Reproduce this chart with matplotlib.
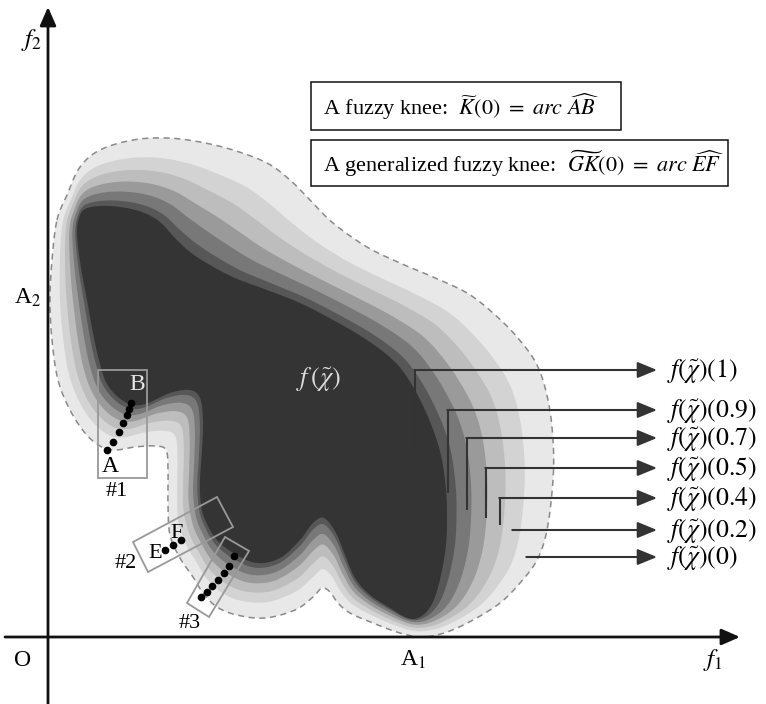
import numpy as np
import matplotlib
matplotlib.use("Agg")
import matplotlib.pyplot as plt
from matplotlib.patches import Polygon, Rectangle

plt.rcParams["font.family"] = ["Liberation Serif", "DejaVu Serif"]
plt.rcParams["mathtext.fontset"] = "stix"

# outer boundary (support, level 0) of the fuzzy front, in picture pixels
outer_x = [57, 67, 80, 100, 133, 167, 200, 233, 267, 290, 310, 333, 367, 400, 433,
           467, 493, 517, 537, 548, 553, 553, 547, 537, 520, 500, 473, 447, 423, 400,
           373, 350, 338, 330, 322, 313, 295, 265, 237, 217, 203, 193, 180, 170, 168,
           168, 166, 155, 135, 115, 100, 85, 70, 58, 52, 50, 52]
outer_y = [220, 195, 167, 150, 140, 138, 142, 150, 163, 180, 200, 223, 247, 263, 277,
           293, 313, 337, 365, 400, 440, 480, 530, 560, 583, 603, 620, 632, 637, 633,
           623, 613, 603, 592, 588, 597, 610, 618, 615, 607, 593, 577, 558, 535, 505,
           470, 450, 446, 447, 450, 446, 433, 410, 380, 340, 300, 260]
# core boundary (level 1), same number of points
core_x = [77, 79, 85, 100, 120, 142, 160, 175, 190, 210, 235, 267, 300, 333, 367,
          395, 412, 425, 435, 442, 446, 447, 446, 441, 435, 428, 420, 412, 403, 390,
          370, 355, 345, 336, 324, 313, 300, 280, 257, 235, 217, 206, 201, 200, 202,
          203, 200, 190, 170, 148, 133, 118, 106, 99, 93, 87, 81]
core_y = [235, 218, 209, 206, 207, 212, 222, 238, 252, 265, 278, 290, 303, 320, 340,
          362, 385, 410, 435, 460, 490, 515, 545, 575, 597, 610, 617, 619, 616, 608,
          595, 578, 555, 533, 518, 523, 540, 558, 563, 554, 540, 522, 505, 480, 450,
          420, 398, 390, 393, 403, 405, 397, 382, 360, 333, 300, 268]

levels = ["0", "0.2", "0.4", "0.5", "0.7", "0.9", "1"]
level_colors = ["#e8e8e8", "#d3d3d3", "#bdbdbd", "#9a9a9a", "#787878", "#575757", "#343434"]
level_frac = [0, 0.27, 0.45, 0.62, 0.77, 0.91, 1.0]

# leaders to the level labels
leader_levels = ["1", "0.9", "0.7", "0.5", "0.4", "0.2", "0"]
leader_y = [370, 410, 438, 468, 498, 530, 557]
leader_x = [415, 448, 467, 486, 500, 513, 527]
leader_drop = [445, 493, 510, 518, 525, None, None]

# knee points
dots1_x = [107, 113, 119, 123, 127, 129, 131]
dots1_y = [450, 442, 432, 423, 415, 409, 403]
dots2_x = [165, 173, 181]
dots2_y = [550, 545, 540]
dots3_x = [201, 207, 212, 218, 224, 229, 234]
dots3_y = [597, 592, 586, 580, 573, 566, 556]

box2_corners = [(133, 542), (217, 497), (233, 527), (148, 572)]
box3_corners = [(225, 537), (249, 551), (209, 617), (187, 603)]


def smooth_closed(pts, n=10):
    P = np.asarray(pts, float)
    N = len(P)
    t = np.linspace(0, 1, n, endpoint=False)[:, None]
    out = []
    for i in range(N):
        p0, p1, p2, p3 = P[i - 1], P[i], P[(i + 1) % N], P[(i + 2) % N]
        seg = 0.5 * (2 * p1 + (-p0 + p2) * t + (2 * p0 - 5 * p1 + 4 * p2 - p3) * t ** 2
                     + (-p0 + 3 * p1 - 3 * p2 + p3) * t ** 3)
        out.append(seg)
    return np.vstack(out)


fig = plt.figure(figsize=(7.66, 7.04), dpi=100)
ax = fig.add_axes([0, 0, 1, 1])
ax.set_xlim(0, 766)
ax.set_ylim(704, 0)
ax.axis("off")

outer = np.column_stack([outer_x, outer_y])
core = np.column_stack([core_x, core_y])

for frac, col in zip(level_frac, level_colors):
    poly = smooth_closed(outer + frac * (core - outer))
    ax.add_patch(Polygon(poly, closed=True, facecolor=col, edgecolor="none", zorder=2))

ax.add_patch(Polygon(smooth_closed(outer), closed=True, fill=False, edgecolor="#8a8a8a",
                     lw=1.1, ls=(0, (4, 3)), zorder=3))

# axes
ax.annotate("", xy=(48, 7), xytext=(48, 704),
            arrowprops=dict(arrowstyle="-|>,head_length=0.8,head_width=0.35",
                            mutation_scale=14, lw=2, color="#111", shrinkA=0, shrinkB=0))
ax.annotate("", xy=(740, 637), xytext=(5, 637),
            arrowprops=dict(arrowstyle="-|>,head_length=0.8,head_width=0.35",
                            mutation_scale=14, lw=2, color="#111", shrinkA=0, shrinkB=0))
ax.text(31, 40, r"$f_2$", fontsize=18, ha="center", va="center")
ax.text(713, 660, r"$f_1$", fontsize=18, ha="center", va="center")
ax.text(28, 298, r"A$_2$", fontsize=17, ha="center", va="center")
ax.text(413, 660, r"A$_1$", fontsize=17, ha="center", va="center")
ax.text(23, 660, "O", fontsize=17, ha="center", va="center")

# leaders
for lev, y, x, yd in zip(leader_levels, leader_y, leader_x, leader_drop):
    if yd is not None:
        ax.plot([x, x], [y, yd], color="#333", lw=1.5, zorder=5, solid_capstyle="butt")
    ax.annotate("", xy=(657, y), xytext=(x - 0.7, y),
                arrowprops=dict(arrowstyle="-|>,head_length=0.85,head_width=0.35",
                                mutation_scale=14, lw=1.5, color="#333", shrinkA=0, shrinkB=0),
                zorder=5)
    ax.text(667, y + 2, r"$f(\tilde{\chi})(%s)$" % lev, fontsize=18.5, ha="left", va="center")

ax.text(318, 380, r"$f\,(\tilde{\chi})$", fontsize=19, color="#dcdcdc", ha="center", va="center",
        zorder=6)

# knee boxes
ax.add_patch(Rectangle((98, 370), 49, 108, fill=False, edgecolor="#999", lw=1.3, zorder=6))
ax.add_patch(Polygon(box2_corners, closed=True, fill=False, edgecolor="#999", lw=1.3, zorder=6))
ax.add_patch(Polygon(box3_corners, closed=True, fill=False, edgecolor="#999", lw=1.3, zorder=6))

for xs, ys in [(dots1_x, dots1_y), (dots2_x, dots2_y), (dots3_x, dots3_y)]:
    ax.plot(xs, ys, "o", color="black", ms=4.5, zorder=7)

ax.text(137, 385, "B", fontsize=17, color="#e6e6e6", ha="center", va="center", zorder=7)
ax.text(110, 467, "A", fontsize=17, ha="center", va="center", zorder=7)
ax.text(155, 553, "E", fontsize=16, ha="center", va="center", zorder=7)
ax.text(177, 533, "F", fontsize=16, ha="center", va="center", zorder=7)
ax.text(117, 492, "#1", fontsize=16, ha="center", va="center", zorder=7)
ax.text(126, 563, "#2", fontsize=16, ha="center", va="center", zorder=7)
ax.text(190, 623, "#3", fontsize=16, ha="center", va="center", zorder=7)

# definition boxes
ax.add_patch(Rectangle((311, 82), 310, 48, fill=False, edgecolor="#111", lw=1.1, zorder=6))
ax.add_patch(Rectangle((311, 140), 417, 46, fill=False, edgecolor="#111", lw=1.1, zorder=6))
ax.text(323, 107, r"A fuzzy knee:  $\widetilde{K}(0)\ =\ arc\ \widehat{AB}$", fontsize=16,
        ha="left", va="center", zorder=7)
ax.text(323, 164, r"A generalized fuzzy knee:  $\widetilde{GK}(0)\ =\ arc\ \widehat{EF}$",
        fontsize=16, ha="left", va="center", zorder=7)

fig.savefig("out.png", dpi=100)
